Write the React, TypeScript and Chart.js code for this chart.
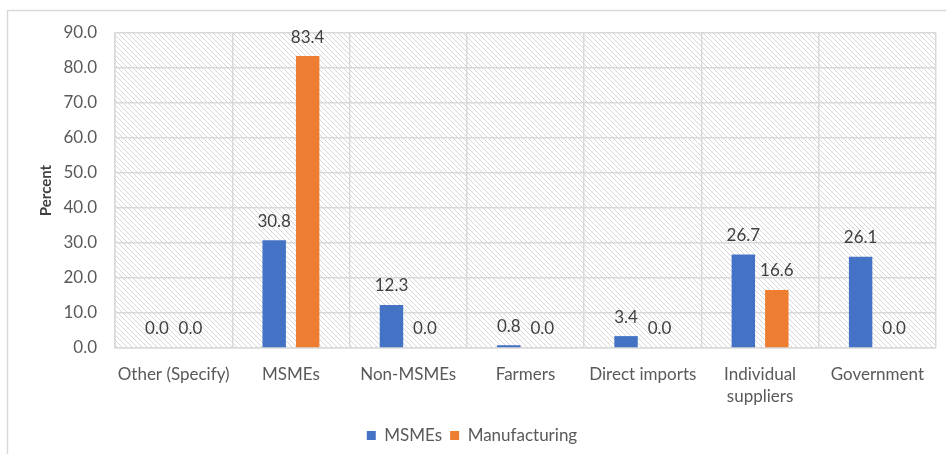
import React, { useEffect, useRef } from "react";
import { Chart, registerables } from "chart.js";

Chart.register(...registerables);

const categories: (string | string[])[] = [
  "Other (Specify)",
  "MSMEs",
  "Non-MSMEs",
  "Farmers",
  "Direct imports",
  ["Individual", "suppliers"],
  "Government",
];
const msmesValues = [0.0, 30.8, 12.3, 0.8, 3.4, 26.7, 26.1];
const manufacturingValues = [0.0, 83.4, 0.0, 0.0, 0.0, 16.6, 0.0];
const seriesNames = ["MSMEs", "Manufacturing"];
const yMin = 0;
const yMax = 90;
const yStep = 10;

const FONT = "Lato, 'Noto Sans', sans-serif";
const GRID = "#d9d9d9";

function makeHatch(ctx: CanvasRenderingContext2D) {
  const s = 5;
  const c = document.createElement("canvas");
  c.width = s;
  c.height = s;
  const p = c.getContext("2d")!;
  p.fillStyle = "#ffffff";
  p.fillRect(0, 0, s, s);
  p.strokeStyle = "#d6d6d6";
  p.lineWidth = 1;
  p.beginPath();
  p.moveTo(-1, -1);
  p.lineTo(s + 1, s + 1);
  p.moveTo(-1, s - 1);
  p.lineTo(1, s + 1);
  p.moveTo(s - 1, -1);
  p.lineTo(s + 1, 1);
  p.stroke();
  return ctx.createPattern(c, "repeat");
}

const backgroundPlugin = {
  id: "bgHatch",
  beforeDraw(chart: any) {
    const { ctx, chartArea } = chart;
    ctx.save();
    ctx.fillStyle = "#ffffff";
    ctx.fillRect(0, 0, chart.width, chart.height);
    ctx.strokeStyle = GRID;
    ctx.lineWidth = 1.5;
    ctx.strokeRect(7.5, 10.5, chart.width + 10, chart.height + 10);
    const pat = makeHatch(ctx);
    if (pat) {
      ctx.fillStyle = pat;
      ctx.fillRect(
        chartArea.left,
        chartArea.top,
        chartArea.right - chartArea.left,
        chartArea.bottom - chartArea.top
      );
    }
    ctx.restore();
  },
};

const labelPlugin = {
  id: "valueLabels",
  afterDatasetsDraw(chart: any) {
    const { ctx } = chart;
    ctx.save();
    ctx.font = `17px ${FONT}`;
    ctx.fillStyle = "#404040";
    ctx.textAlign = "center";
    ctx.textBaseline = "middle";
    chart.data.datasets.forEach((ds: any, i: number) => {
      const meta = chart.getDatasetMeta(i);
      meta.data.forEach((el: any, j: number) => {
        const v = ds.data[j] as number;
        ctx.fillText(v.toFixed(1), el.x, el.y - 19);
      });
    });
    ctx.restore();
  },
};

export default function App() {
  const ref = useRef<HTMLCanvasElement | null>(null);
  useEffect(() => {
    if (!ref.current) return;
    const chart = new Chart(ref.current, {
      type: "bar",
      data: {
        labels: categories,
        datasets: [
          {
            label: seriesNames[0],
            data: msmesValues,
            backgroundColor: "#4472C4",
            categoryPercentage: 0.571,
            barPercentage: 0.7,
          },
          {
            label: seriesNames[1],
            data: manufacturingValues,
            backgroundColor: "#ED7D31",
            categoryPercentage: 0.571,
            barPercentage: 0.7,
          },
        ],
      },
      options: {
        responsive: false,
        animation: false,
        layout: { padding: { left: 8, right: 10, top: 33, bottom: 0 } },
        plugins: {
          legend: {
            position: "bottom",
            labels: {
              boxWidth: 9,
              boxHeight: 9,
              color: "#595959",
              font: { family: FONT, size: 17 },
              padding: 8,
            },
          },
          tooltip: { enabled: false },
          title: { display: false },
        },
        scales: {
          x: {
            grid: { color: GRID, lineWidth: 1.5, drawTicks: false, offset: true },
            border: { color: GRID, width: 1.5 },
            ticks: {
              color: "#595959",
              font: { family: FONT, size: 17, lineHeight: 1.3 },
              padding: 15,
              maxRotation: 0,
              autoSkip: false,
            },
            afterFit(scale: any) {
              scale.height = 71;
            },
          },
          y: {
            min: yMin,
            max: yMax,
            grid: { color: GRID, lineWidth: 1.5, drawTicks: false },
            border: { color: GRID, width: 1.5 },
            ticks: {
              stepSize: yStep,
              color: "#595959",
              font: { family: FONT, size: 17 },
              padding: 18,
              callback: (v: any) => Number(v).toFixed(1),
            },
            title: {
              display: true,
              text: "Percent",
              color: "#404040",
              font: { family: FONT, size: 15, weight: "bold" },
              padding: { top: 29, bottom: 0 },
            },
            afterFit(scale: any) {
              scale.width = 107;
            },
          },
        },
      },
      plugins: [backgroundPlugin, labelPlugin],
    });
    return () => chart.destroy();
  }, []);
  return (
    <div style={{ position: "fixed", left: 0, top: 0, width: 946, height: 454, background: "#fff" }}>
      <canvas ref={ref} width={946} height={454} style={{ display: "block" }} />
    </div>
  );
}
